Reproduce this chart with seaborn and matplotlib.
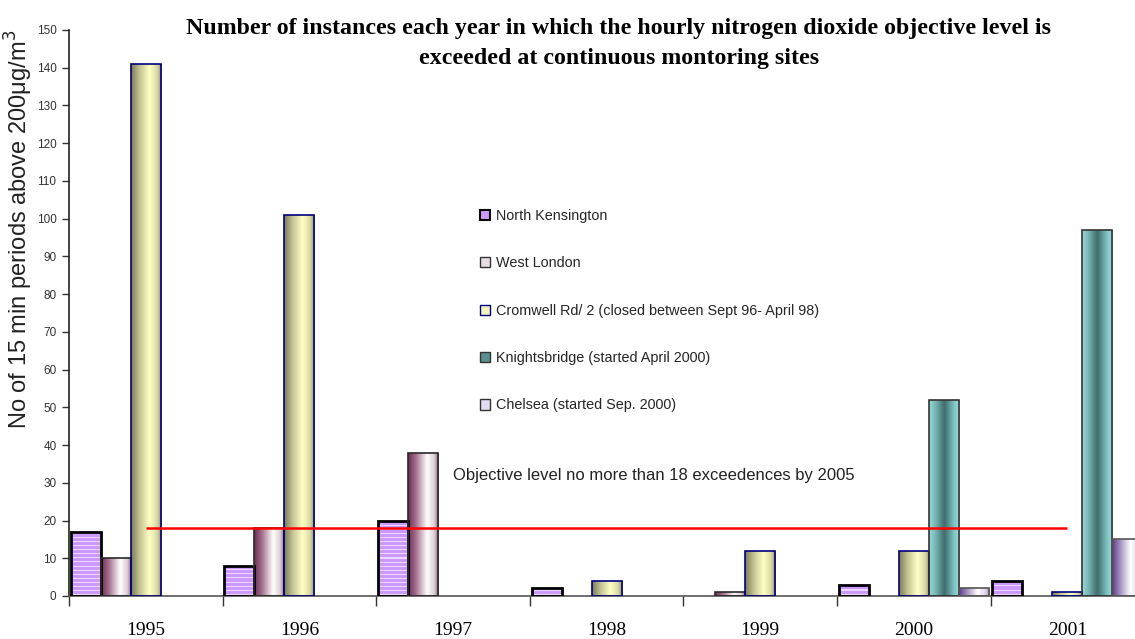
import numpy as np
import pandas as pd
import matplotlib
matplotlib.use("Agg")
import matplotlib.pyplot as plt
import seaborn as sns
from matplotlib import font_manager
from matplotlib.colors import LinearSegmentedColormap, to_rgb
from matplotlib.patches import Patch

# ---------------- data ----------------
years = ["1995", "1996", "1997", "1998", "1999", "2000", "2001"]
sites = [
    "North Kensington",
    "West London",
    "Cromwell Rd/ 2 (closed between Sept 96- April 98)",
    "Knightsbridge (started April 2000)",
    "Chelsea (started Sep. 2000)",
]
north_kensington = [17, 8, 20, 2, 0, 3, 4]
west_london = [10, 18, 38, 0, 1, 0, 0]
cromwell_rd = [141, 101, 0, 4, 12, 12, 1]
knightsbridge = [0, 0, 0, 0, 0, 52, 97]
chelsea = [0, 0, 0, 0, 0, 2, 15]
objective_level = 18
objective_text = "Objective level no more than 18 exceedences by 2005"
title_text = ("Number of instances each year in which the hourly nitrogen dioxide objective level is\n"
              "exceeded at continuous montoring sites")
ylabel_text = r"No of 15 min periods above 200$\mathregular{\mu}$g/m$^3$"

series = [north_kensington, west_london, cromwell_rd, knightsbridge, chelsea]
rows = []
for site, vals in zip(sites, series):
    for y, v in zip(years, vals):
        rows.append({"year": y, "site": site, "value": v})
df = pd.DataFrame(rows)

# ---------------- fonts ----------------
names = {f.name for f in font_manager.fontManager.ttflist}
narrow = "Liberation Sans Narrow" if "Liberation Sans Narrow" in names else "Liberation Sans"
serif = "Liberation Serif"

sns.set_theme(style="white")
plt.rcParams["font.family"] = [narrow, "DejaVu Sans"]

fig = plt.figure(figsize=(11.35, 6.39), dpi=100)
ax = fig.add_axes([69 / 1135, 43 / 639, 1 - 69 / 1135, 566 / 639])

edge_colors = ["#000000", "#2a2a2a", "#000080", "#333333", "#555555"]
edge_widths = [2.0, 1.2, 1.2, 1.2, 1.2]

sns.barplot(data=df, x="year", y="value", hue="site", hue_order=sites, order=years,
            width=0.977, dodge=True, ax=ax, legend=False, saturation=1,
            palette=["#cc99ff", "#b08aa0", "#e8e8b0", "#66a6a6", "#b8a8d0"])

cmaps = [
    None,
    LinearSegmentedColormap.from_list("wl", [(0, "#6a2c52"), (0.25, "#a26e8c"), (0.62, "#ffffff"),
                                             (0.85, "#dccfd6"), (1, "#8c5a78")]),
    LinearSegmentedColormap.from_list("cr", [(0, "#7a7a58"), (0.3, "#c8c898"), (0.6, "#ffffc4"),
                                             (0.85, "#d8d8a4"), (1, "#8a8a66")]),
    LinearSegmentedColormap.from_list("kb", [(0, "#9ad8d8"), (0.2, "#7ab8b8"), (0.5, "#3f6c6c"),
                                             (0.8, "#7ec0c0"), (1, "#a0dede")]),
    LinearSegmentedColormap.from_list("ch", [(0, "#5a3a80"), (0.25, "#a08cc0"), (0.6, "#ffffff"),
                                             (0.85, "#e0d8ec"), (1, "#9a86bc")]),
]

px_per_unit = 566 / 150.0
for k, cont in enumerate(ax.containers):
    for patch in cont.patches:
        h = patch.get_height()
        x0, w = patch.get_x(), patch.get_width()
        patch.set_edgecolor(edge_colors[k])
        patch.set_linewidth(edge_widths[k])
        patch.set_zorder(3)
        if h <= 0:
            patch.set_visible(False)
            continue
        if k == 0:
            nrows = max(int(round(h * px_per_unit)), 1)
            img = np.zeros((nrows, 1, 3))
            base = np.array(to_rgb("#cc99ff"))
            light = np.array(to_rgb("#eed8ff"))
            for r in range(nrows):
                img[r, 0] = light if (r % 4 == 1) else base
            im = ax.imshow(img, aspect="auto", extent=(x0, x0 + w, 0, h), origin="lower",
                           interpolation="nearest", zorder=2)
        else:
            grad = np.linspace(0, 1, 256).reshape(1, -1)
            im = ax.imshow(grad, cmap=cmaps[k], aspect="auto", extent=(x0, x0 + w, 0, h),
                           origin="lower", interpolation="bicubic", zorder=2)
        im.set_clip_path(patch)
        patch.set_facecolor("none")

# objective line
ax.hlines(objective_level, 0, len(years) - 1, color="#ff0000", lw=1.8, zorder=4)
ax.text(2.0, 32.0, objective_text, fontsize=12, color="#222222", va="center", ha="left")

# axes styling
ax.set_xlim(-0.5, 6.44)
ax.set_ylim(0, 150)
ax.set_yticks(np.arange(0, 151, 10))
ax.tick_params(axis="y", direction="out", length=5, width=1, color="#333333", labelsize=8.5,
               labelcolor="#333333", left=True, pad=4)
ax.set_xticks(range(len(years)))
ax.set_xticklabels(years, family=serif, fontsize=14)
ax.tick_params(axis="x", which="major", length=0, pad=19, labelcolor="#000000")
ax.set_xticks([i - 0.5 for i in range(len(years))], minor=True)
ax.tick_params(axis="x", which="minor", direction="out", length=7, width=1, color="#333333", bottom=True)
ax.set_xlabel("")
ax.set_ylabel("")
for s in ["top", "right"]:
    ax.spines[s].set_visible(False)
ax.spines["left"].set_color("#222222")
ax.spines["bottom"].set_color("#555555")
ax.spines["left"].set_linewidth(1.2)
ax.spines["bottom"].set_linewidth(1.2)
ax.grid(False)

# legend
handles = [
    Patch(facecolor="#cc99ff", edgecolor="#000000", lw=1.5),
    Patch(facecolor="#e8dce4", edgecolor="#333333", lw=1.0),
    Patch(facecolor="#f4f4c0", edgecolor="#000080", lw=1.0),
    Patch(facecolor="#5a9090", edgecolor="#333333", lw=1.0),
    Patch(facecolor="#e4dcf0", edgecolor="#333333", lw=1.0),
]
leg = fig.legend(handles, sites, loc="upper left", bbox_to_anchor=(480 / 1135, 1 - 209 / 639),
                 frameon=False, fontsize=10.4, labelspacing=2.31, handlelength=0.72,
                 handleheight=0.72, handletextpad=0.4, borderpad=0, borderaxespad=0)

# title and y label
fig.text(619 / 1135, 1 - 43.5 / 639, title_text, family=serif, fontweight="bold", fontsize=17.2,
         ha="center", va="center", linespacing=1.6, color="#000000")
fig.text(19 / 1135, 1 - 229 / 639, ylabel_text, rotation=90, ha="center", va="center",
         fontsize=17, color="#222222")

fig.savefig("out.png", dpi=100)
